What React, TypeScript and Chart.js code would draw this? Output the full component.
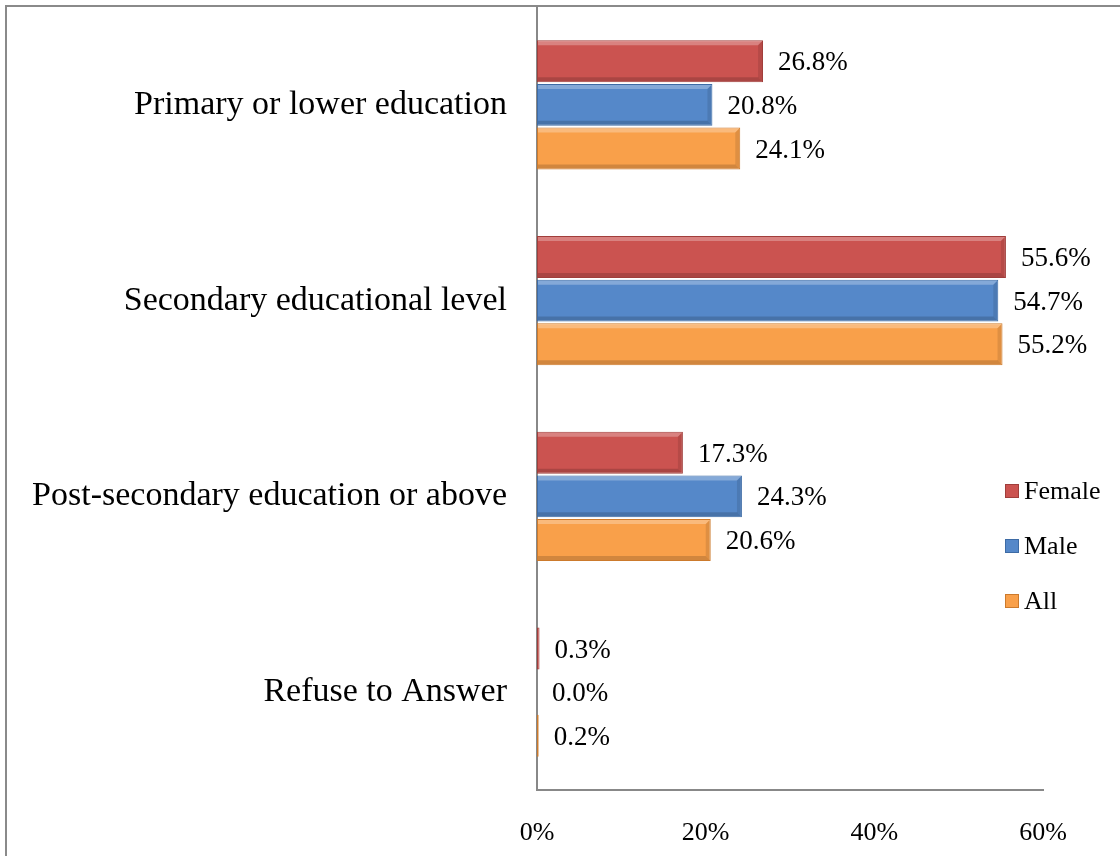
import React, { useEffect, useRef } from "react";
import { Chart, registerables } from "chart.js";

Chart.register(...registerables);

const categories = [
  "Primary or lower education",
  "Secondary educational level",
  "Post-secondary education or above",
  "Refuse to Answer",
];
const seriesNames = ["Female", "Male", "All"];
const femaleValues = [26.8, 55.6, 17.3, 0.3];
const maleValues = [20.8, 54.7, 24.3, 0.0];
const allValues = [24.1, 55.2, 20.6, 0.2];
const xTicks = [0, 20, 40, 60];

const fills = ["#CB5350", "#5588C9", "#F9A04A"];
const edges = ["#A03E3B", "#3D6BA5", "#CC7A2C"];
const FONT = "'Liberation Serif', 'Times New Roman', serif";

const bevel = {
  id: "bevel",
  afterDatasetsDraw(chart: any) {
    const ctx = chart.ctx;
    ctx.save();
    chart.data.datasets.forEach((_ds: any, i: number) => {
      const meta = chart.getDatasetMeta(i);
      meta.data.forEach((el: any) => {
        const left = el.base;
        const right = el.x;
        const w = right - left;
        if (w < 8) return;
        const top = el.y - el.height / 2;
        const bot = el.y + el.height / 2;
        const b = 5;
        // top highlight
        ctx.fillStyle = "rgba(255,255,255,0.28)";
        ctx.beginPath();
        ctx.moveTo(left + 1, top + 1);
        ctx.lineTo(right - 1, top + 1);
        ctx.lineTo(right - b, top + b);
        ctx.lineTo(left + 1, top + b);
        ctx.closePath();
        ctx.fill();
        // bottom shade
        ctx.fillStyle = "rgba(0,0,0,0.16)";
        ctx.beginPath();
        ctx.moveTo(left + 1, bot - 1);
        ctx.lineTo(right - 1, bot - 1);
        ctx.lineTo(right - b, bot - b);
        ctx.lineTo(left + 1, bot - b);
        ctx.closePath();
        ctx.fill();
        // right end shade
        ctx.fillStyle = "rgba(0,0,0,0.10)";
        ctx.beginPath();
        ctx.moveTo(right - 1, top + 1);
        ctx.lineTo(right - 1, bot - 1);
        ctx.lineTo(right - b, bot - b);
        ctx.lineTo(right - b, top + b);
        ctx.closePath();
        ctx.fill();
      });
    });
    ctx.restore();
  },
};

const valueLabels = {
  id: "valueLabels",
  afterDatasetsDraw(chart: any) {
    const ctx = chart.ctx;
    ctx.save();
    ctx.font = `27px ${FONT}`;
    ctx.fillStyle = "#000";
    ctx.textBaseline = "middle";
    ctx.textAlign = "left";
    chart.data.datasets.forEach((ds: any, i: number) => {
      const meta = chart.getDatasetMeta(i);
      meta.data.forEach((el: any, j: number) => {
        const v = ds.data[j];
        ctx.fillText(v.toFixed(1) + "%", el.x + 15, el.y + 2);
      });
    });
    ctx.restore();
  },
};

const sideLegend = {
  id: "sideLegend",
  afterDraw(chart: any) {
    const ctx = chart.ctx;
    ctx.save();
    ctx.font = `26px ${FONT}`;
    ctx.textBaseline = "middle";
    ctx.textAlign = "left";
    chart.data.datasets.forEach((ds: any, i: number) => {
      const y = 491 + i * 55;
      ctx.fillStyle = ds.backgroundColor;
      ctx.fillRect(1005, y - 7, 14, 14);
      ctx.strokeStyle = ds.borderColor;
      ctx.lineWidth = 1;
      ctx.strokeRect(1005.5, y - 6.5, 13, 13);
      ctx.fillStyle = "#000";
      ctx.fillText(ds.label, 1024, y + 1);
    });
    ctx.restore();
  },
};

export default function App() {
  const ref = useRef<HTMLCanvasElement | null>(null);
  useEffect(() => {
    document.body.style.margin = "0";
    const values = [femaleValues, maleValues, allValues];
    const chart = new Chart(ref.current as HTMLCanvasElement, {
      type: "bar",
      data: {
        labels: categories,
        datasets: seriesNames.map((name, i) => ({
          label: name,
          data: values[i],
          backgroundColor: fills[i],
          borderColor: edges[i],
          borderWidth: 1,
          borderSkipped: false,
          categoryPercentage: 0.67,
          barPercentage: 0.96,
        })),
      },
      options: {
        indexAxis: "y",
        animation: false,
        responsive: false,
        maintainAspectRatio: false,
        layout: { padding: { left: 26, right: 77, top: 7, bottom: 8 } },
        plugins: { legend: { display: false }, tooltip: { enabled: false } },
        scales: {
          x: {
            min: 0,
            max: 60,
            afterBuildTicks: (scale: any) => {
              scale.ticks = xTicks.map((v) => ({ value: v }));
            },
            afterFit: (scale: any) => {
              scale.height = 58;
              scale.paddingLeft = 0;
              scale.paddingRight = 0;
            },
            grid: { display: false },
            border: { display: true, color: "#888888", width: 2 },
            ticks: {
              padding: 20,
              color: "#000",
              font: { family: FONT, size: 26 },
              callback: (v: any) => v + "%",
            },
          },
          y: {
            afterFit: (scale: any) => {
              scale.width = 511;
              scale.paddingTop = 0;
              scale.paddingBottom = 0;
            },
            grid: { display: false },
            border: { display: true, color: "#888888", width: 2 },
            ticks: {
              padding: 22,
              color: "#000",
              font: { family: FONT, size: 34 },
            },
          },
        },
      },
      plugins: [bevel, valueLabels, sideLegend],
    });
    return () => chart.destroy();
  }, []);
  return (
    <div style={{ position: "relative", width: 1120, height: 856, overflow: "hidden", background: "#fff" }}>
      <div
        style={{
          position: "absolute",
          left: 5,
          top: 5,
          width: 1300,
          height: 1000,
          border: "2px solid #8a8a8a",
        }}
      />
      <canvas ref={ref} width={1120} height={856} style={{ position: "absolute", left: 0, top: 0 }} />
    </div>
  );
}
